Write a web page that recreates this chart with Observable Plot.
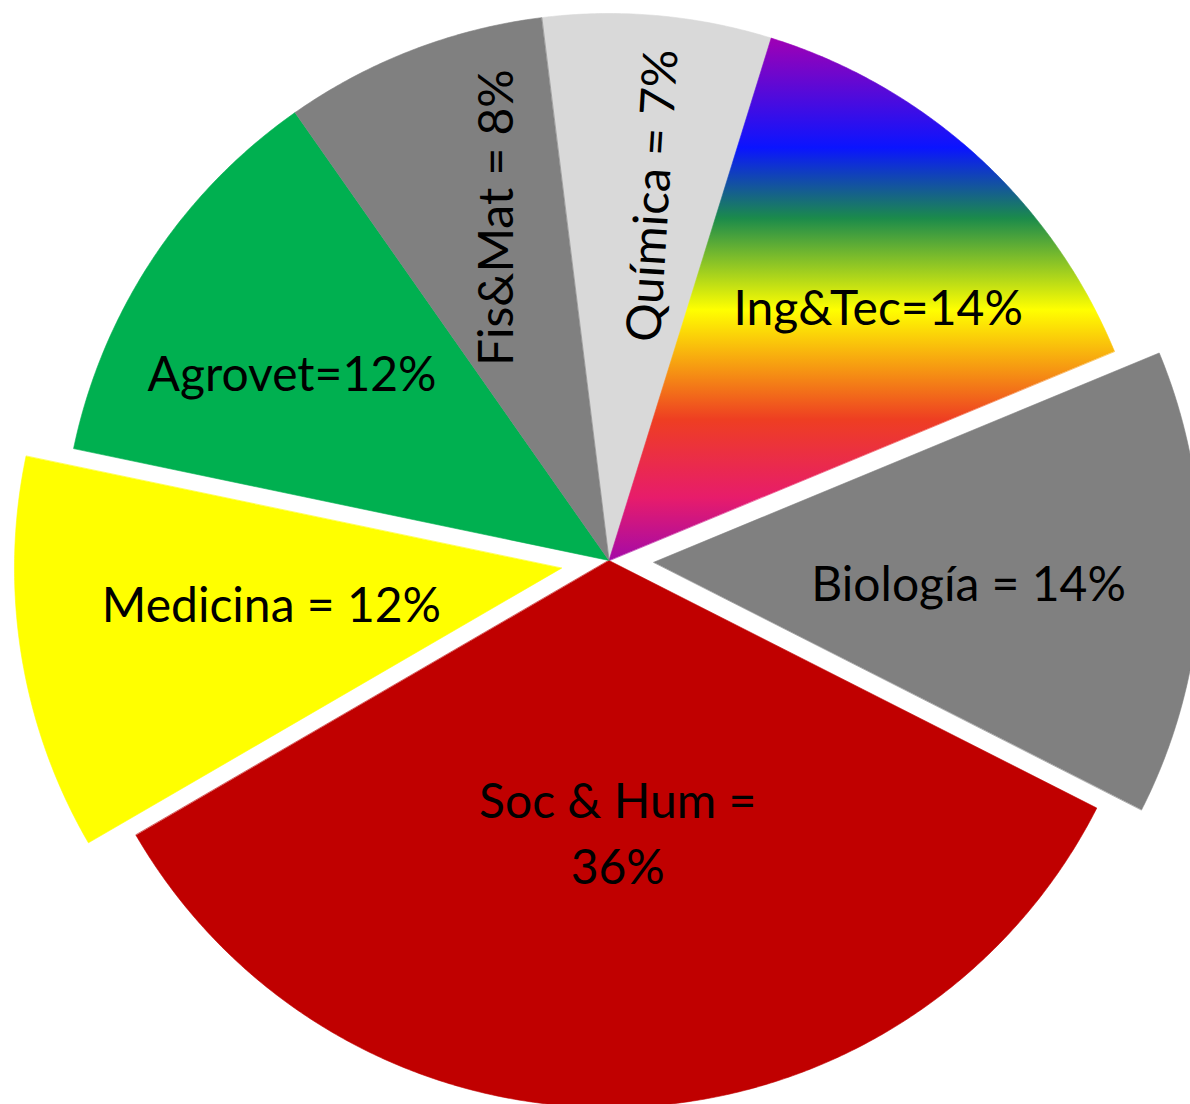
<!DOCTYPE html>
<html>
<head>
<meta charset="utf-8">
<script src="https://cdn.jsdelivr.net/npm/d3@7"></script>
<script src="https://cdn.jsdelivr.net/npm/@observablehq/plot@0.6"></script>
<style>
  html, body { margin: 0; padding: 0; background: #ffffff; }
  #chart { width: 1190px; height: 1104px; overflow: hidden; }
</style>
</head>
<body>
<div id="chart"></div>
<script>
// ---- data ----
const categories = ["Química", "Ing&Tec", "Biología", "Soc & Hum", "Medicina", "Agrovet", "Fis&Mat"];
const shares = [6.76, 13.96, 13.72, 34.15, 11.65, 11.99, 7.76];           // slice sizes (% of circle)
const labels = ["Química = 7%", "Ing&Tec=14%", "Biología = 14%", "Soc & Hum =\n36%", "Medicina = 12%", "Agrovet=12%", "Fis&Mat = 8%"];
const colors = ["#d9d9d9", "url(#rainbow)", "#808080", "#c00000", "#ffff00", "#00b050", "#808080"];

// ---- layout ----
const startDeg = -7.09;                                  // first slice starts here, clockwise from 12 o'clock
const explode = [0, 0, 0.082, 0, 0.088, 0, 0];           // fraction of radius
const labelRadius = [0.672, 0.672, 0.577, 0.503, 0.535, 0.671, 0.659];
const labelShiftDeg = [1.9, 4.7, 2.0, -0.2, 1.5, -3.1, 3.1];
const labelRotate = [-86.5, 0, 0, 0, 0, 0, -90];
const labelLift = 6;                                     // px, along each label's "up" direction
const rainbowStops = [
  [0.00, "#a000b4"], [0.21, "#0a14ff"], [0.345, "#1b8b4b"], [0.52, "#ffff00"],
  [0.73, "#ee3e22"], [0.88, "#e71c6b"], [1.00, "#a40aa8"]
];

const W = 1190, H = 1104, R = 547, CX = 608.5, CY = 560;
const total = d3.sum(shares);
const rad = Math.PI / 180;
const slices = [];
let acc = startDeg * rad;
categories.forEach((c, i) => {
  const span = shares[i] / total * 2 * Math.PI;
  const a0 = acc, a1 = acc + span, mid = (a0 + a1) / 2;
  slices.push({i, c, a0, a1, mid, ox: explode[i] * Math.sin(mid), oy: explode[i] * Math.cos(mid)});
  acc = a1;
});

// polygon vertices of every wedge (apex + arc samples), in radius units
const wedgePoints = [];
for (const s of slices) {
  wedgePoints.push({i: s.i, x: s.ox, y: s.oy});
  const n = Math.max(2, Math.ceil((s.a1 - s.a0) / (0.4 * rad)));
  for (let k = 0; k <= n; k++) {
    const a = s.a0 + (s.a1 - s.a0) * k / n;
    wedgePoints.push({i: s.i, x: s.ox + Math.sin(a), y: s.oy + Math.cos(a)});
  }
}

const labelRows = slices.map(s => {
  const a = s.mid + labelShiftDeg[s.i] * rad;
  const r = labelRadius[s.i];
  const rot = labelRotate[s.i] * rad;
  return {
    text: labels[s.i],
    x: s.ox + r * Math.sin(a) + labelLift * Math.sin(rot) / R,
    y: s.oy + r * Math.cos(a) + labelLift * Math.cos(rot) / R,
    rotate: labelRotate[s.i]
  };
});

function defsMark() {
  const ns = "http://www.w3.org/2000/svg";
  const defs = document.createElementNS(ns, "defs");
  const g = document.createElementNS(ns, "linearGradient");
  g.setAttribute("id", "rainbow");
  g.setAttribute("x1", "0"); g.setAttribute("y1", "0");
  g.setAttribute("x2", "0"); g.setAttribute("y2", "1");
  for (const [o, c] of rainbowStops) {
    const st = document.createElementNS(ns, "stop");
    st.setAttribute("offset", o);
    st.setAttribute("stop-color", c);
    g.appendChild(st);
  }
  defs.appendChild(g);
  return defs;
}

const chart = Plot.plot({
  width: W,
  height: H,
  margin: 0,
  x: {domain: [-CX / R, (W - CX) / R], axis: null},
  y: {domain: [-(H - CY) / R, CY / R], axis: null},
  style: {background: "#ffffff", overflow: "hidden"},
  marks: [
    defsMark,
    ...slices.map(s => Plot.line(wedgePoints.filter(p => p.i === s.i), {
      x: "x", y: "y", curve: "linear-closed",
      fill: colors[s.i], stroke: colors[s.i], strokeWidth: 0.6
    })),
    Plot.text(labelRows, {
      x: "x", y: "y", text: "text", rotate: "rotate",
      fill: "#000000", fontSize: 48, fontFamily: "Lato", lineHeight: 1.375
    })
  ]
});
document.getElementById("chart").appendChild(chart);
</script>
</body>
</html>
